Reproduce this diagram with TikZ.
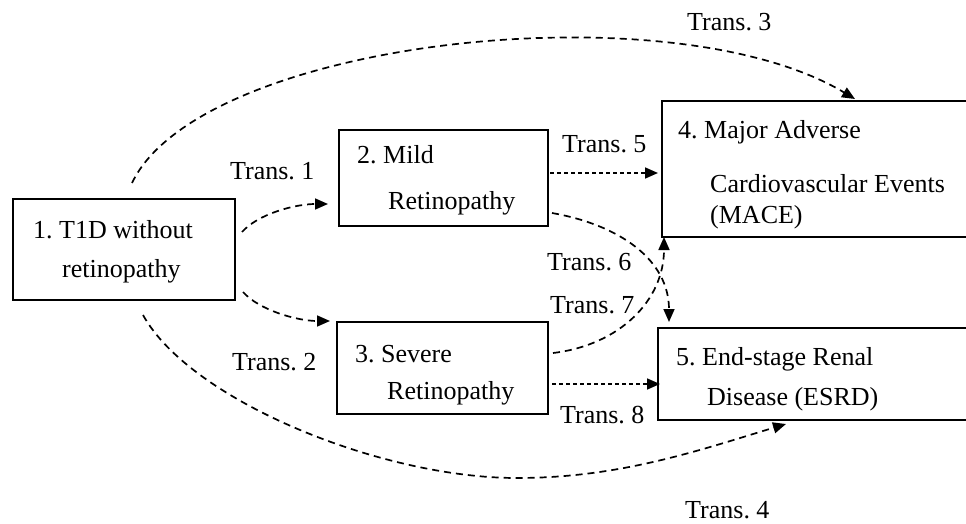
\documentclass[tikz,border=0pt]{standalone}
\usepackage{fontspec}
\setmainfont{Liberation Serif}
\usetikzlibrary{arrows.meta}
\begin{document}
\frenchspacing
\begin{tikzpicture}[x=1pt,y=-1pt,
  box/.style={draw, line width=1.8pt, rectangle, inner sep=0pt},
  lbl/.style={anchor=base west, inner sep=0pt, font=\fontsize{26}{30}\selectfont\frenchspacing},
  curv/.style={line width=1.7pt, dash pattern=on 7pt off 5pt, -{Triangle[length=13pt,width=11pt]}},
  strt/.style={line width=1.6pt, dash pattern=on 4pt off 3pt, -{Triangle[length=13pt,width=11pt]}}]
\useasboundingbox (0,0) rectangle (966,524);
\clip (0,0) rectangle (966,524);
% boxes
\node[box, minimum width=222pt, minimum height=101pt] (b1) at (124,249.5) {};
\node[box, minimum width=209pt, minimum height=96pt] (b2) at (443.5,178) {};
\node[box, minimum width=211pt, minimum height=92pt] (b3) at (442.5,368) {};
\node[box, minimum width=313pt, minimum height=136pt] (b4) at (818.5,169) {};
\node[box, minimum width=317pt, minimum height=92pt] (b5) at (816.5,374) {};
% box texts
\node[lbl] (b1a) at (33,238) {1. T1D without};
\node[lbl] (b1b) at (62,277) {retinopathy};
\node[lbl] (b2a) at (357,163) {2. Mild};
\node[lbl] (b2b) at (388,209) {Retinopathy};
\node[lbl] (b3a) at (355,362) {3. Severe};
\node[lbl] (b3b) at (387,399) {Retinopathy};
\node[lbl] (b4a) at (678,139) {4. Major Adverse};
\node[lbl] (b4b) at (710,192) {Cardiovascular Events};
\node[lbl] (b4c) at (710,223) {(MACE)};
\node[lbl] (b5a) at (676,365) {5. End-stage Renal};
\node[lbl] (b5b) at (707,405) {Disease (ESRD)};
% transition labels
\node[lbl] (l1) at (230,179) {Trans. 1};
\node[lbl] (l2) at (232,370) {Trans. 2};
\node[lbl] (l3) at (687,31) {Trans. 3};
\node[lbl] (l4) at (685,518) {Trans. 4};
\node[lbl] (l5) at (562,152) {Trans. 5};
\node[lbl] (l6) at (547,270) {Trans. 6};
\node[lbl] (l7) at (550,313) {Trans. 7};
\node[lbl] (l8) at (560,423) {Trans. 8};
% connector end points
\coordinate (t1s) at (242,232); \coordinate (t1e) at (328,204);
\coordinate (t2s) at (243,292); \coordinate (t2e) at (330,321);
\coordinate (t3s) at (132,183); \coordinate (t3e) at (855,99);
\coordinate (t4s) at (143,315); \coordinate (t4m) at (517,478); \coordinate (t4e) at (786,424);
\coordinate (t5s) at (550,173); \coordinate (t5e) at (658,173);
\coordinate (t6s) at (552,213); \coordinate (t6e) at (669,322);
\coordinate (t7s) at (553,353); \coordinate (t7e) at (664,237);
\coordinate (t8s) at (552,384); \coordinate (t8e) at (660,384);
% connectors
\draw[curv] (t1s) .. controls (258,214) and (295,204) .. (t1e);
\draw[curv] (t2s) .. controls (259,310) and (297,321) .. (t2e);
\draw[curv] (t3s) .. controls (200,40) and (670,-12) .. (t3e);
\draw[curv] (t4s) .. controls (190,400) and (380,478) .. (t4m) .. controls (620,478) and (700,450) .. (t4e);
\draw[strt] (t5s) -- (t5e);
\draw[curv] (t6s) .. controls (620,225) and (669,260) .. (t6e);
\draw[curv] (t7s) .. controls (620,345) and (664,300) .. (t7e);
\draw[strt] (t8s) -- (t8e);
\end{tikzpicture}
\end{document}
